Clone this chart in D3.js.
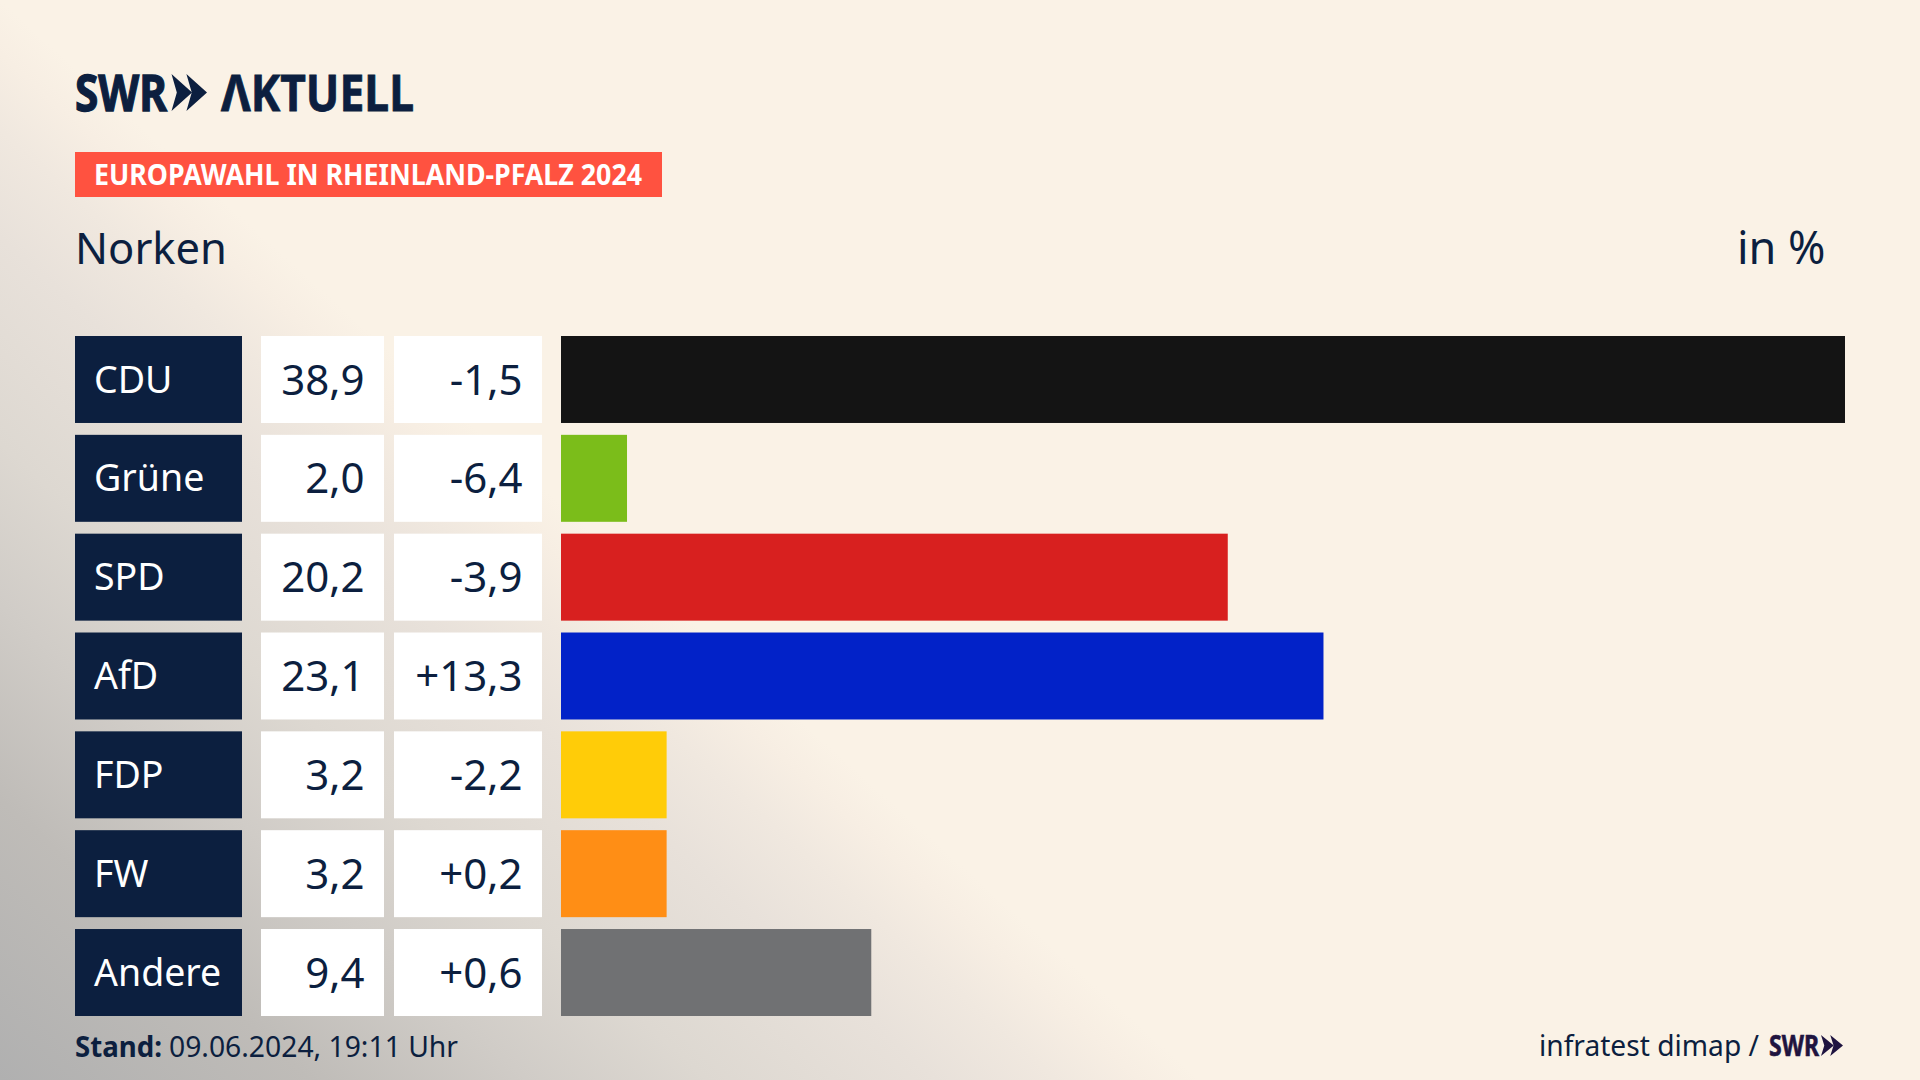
<!DOCTYPE html>
<html lang="de">
<head>
<meta charset="utf-8">
<title>Europawahl in Rheinland-Pfalz 2024 – Norken</title>
<script src="https://cdn.jsdelivr.net/npm/d3@7"></script>
<style>
html,body{margin:0;padding:0;background:#faf2e6;overflow:hidden}
svg{display:block}
text{font-family:"Noto Sans",sans-serif}
</style>
</head>
<body>
<svg id="chart" width="1920" height="1080"></svg>
<script>
const categories = ["CDU","Grüne","SPD","AfD","FDP","FW","Andere"];
const shares = [38.9,2.0,20.2,23.1,3.2,3.2,9.4];
const changes = [-1.5,-6.4,-3.9,13.3,-2.2,0.2,0.6];
const barColors = ["#141414","#7bbd1a","#d8201f","#0222c8","#ffcc08","#ff8e15","#707173"];
const badgeText = "EUROPAWAHL IN RHEINLAND-PFALZ 2024";
const regionText = "Norken";
const unitText = "in %";
const standLabel = "Stand:";
const standText = "09.06.2024, 19:11 Uhr";
const sourceText = "infratest dimap /";

const navy = "#0c1f3f";
const svg = d3.select("#chart");
const defs = svg.append("defs");

const bg = defs.append("linearGradient").attr("id","bg").attr("gradientUnits","userSpaceOnUse")
  .attr("x1",0).attr("y1",1080).attr("x2",537).attr("y2",483);
[[0,"#b0b0b0"],[0.26,"#bfbcb8"],[0.44,"#d0ccc7"],[0.59,"#ddd8d1"],[0.78,"#e8e1da"],[0.88,"#f0e8df"],[0.95,"#f7eee3"],[1,"#faf2e6"]]
  .forEach(s=>bg.append("stop").attr("offset",s[0]).attr("stop-color",s[1]));
svg.append("rect").attr("width",1920).attr("height",1080).attr("fill","url(#bg)");

const fmtNum = v => d3.format(".1f")(Math.abs(v)).replace(".",",");
const fmtShare = v => fmtNum(v);
const fmtChange = v => (v>0?"+":"-")+fmtNum(v);

const x = d3.scaleLinear().domain([0,38.9]).range([561,1845]);
const y = d3.scaleBand().domain(categories).range([336,1016]).paddingInner(0.12);
const data = categories.map((c,i)=>({c,s:shares[i],d:changes[i],col:barColors[i]}));

const rows = svg.append("g").selectAll("g").data(data).join("g")
  .attr("transform",d=>`translate(0,${y(d.c)})`);
const h = y.bandwidth();
rows.append("rect").attr("x",75).attr("width",167).attr("height",h).attr("fill",navy);
rows.append("rect").attr("x",261).attr("width",123).attr("height",h).attr("fill","#fff");
rows.append("rect").attr("x",394).attr("width",148).attr("height",h).attr("fill","#fff");
rows.append("rect").attr("x",x(0)).attr("width",d=>x(d.s)-x(0)).attr("height",h).attr("fill",d=>d.col);
rows.append("text").attr("x",94).attr("y",56.5).attr("font-size",37.5).attr("fill","#fff").text(d=>d.c);
rows.append("text").attr("x",364.5).attr("y",58.5).attr("font-size",42).attr("text-anchor","end").attr("fill",navy).text(d=>fmtShare(d.s));
rows.append("text").attr("x",522.5).attr("y",58.5).attr("font-size",42).attr("text-anchor","end").attr("fill",navy).text(d=>fmtChange(d.d));

// Logo
function chevrons(g,x0,y0,w,hh,fill){
  const cw=w*0.58, notch=w*0.15;
  [0,w-cw].forEach(o=>{
    g.append("path").attr("fill",fill)
     .attr("d",`M${x0+o},${y0}L${x0+o+cw},${y0+hh/2}L${x0+o},${y0+hh}L${x0+o+notch},${y0+hh/2}Z`);
  });
}
const logo = svg.append("g");
logo.append("text").attr("x",75).attr("y",110.5).attr("font-size",51).attr("font-weight",700).attr("fill",navy)
  .attr("stroke",navy).attr("stroke-width",1.3)
  .attr("textLength",92).attr("lengthAdjust","spacingAndGlyphs").text("SWR");
chevrons(logo,171.5,74,35.5,37,navy);
logo.append("text").attr("x",221).attr("y",110.5).attr("font-size",51).attr("font-weight",700).attr("fill",navy)
  .attr("stroke",navy).attr("stroke-width",0.8)
  .attr("textLength",193).attr("lengthAdjust","spacingAndGlyphs").text("ΛKTUELL");

// Badge
svg.append("rect").attr("x",75).attr("y",152).attr("width",587).attr("height",45).attr("fill","#ff5240");
svg.append("text").attr("x",94).attr("y",184.5).attr("font-size",28).attr("font-weight",700).attr("fill","#fff")
  .attr("textLength",548).attr("lengthAdjust","spacingAndGlyphs").text(badgeText);

svg.append("text").attr("x",75).attr("y",264).attr("font-size",44).attr("fill",navy)
  .attr("textLength",152).attr("lengthAdjust","spacingAndGlyphs").text(regionText);
svg.append("text").attr("x",1825.5).attr("y",264).attr("font-size",45).attr("text-anchor","end").attr("fill",navy).text(unitText);

// Footer
svg.append("text").attr("x",75).attr("y",1056.5).attr("font-size",29).attr("font-weight",700).attr("fill",navy)
  .attr("textLength",87).attr("lengthAdjust","spacingAndGlyphs").text(standLabel);
svg.append("text").attr("x",169).attr("y",1056.5).attr("font-size",29).attr("fill",navy)
  .attr("textLength",289).attr("lengthAdjust","spacingAndGlyphs").text(standText);
svg.append("text").attr("x",1539).attr("y",1056).attr("font-size",29.5).attr("fill",navy)
  .attr("textLength",220).attr("lengthAdjust","spacingAndGlyphs").text(sourceText);
svg.append("text").attr("x",1769).attr("y",1056).attr("font-size",28).attr("font-weight",700).attr("fill","#1f1440")
  .attr("stroke","#1f1440").attr("stroke-width",0.6)
  .attr("textLength",50).attr("lengthAdjust","spacingAndGlyphs").text("SWR");
chevrons(svg.append("g"),1821,1035,22,21,"#1f1440");
</script>
</body>
</html>
